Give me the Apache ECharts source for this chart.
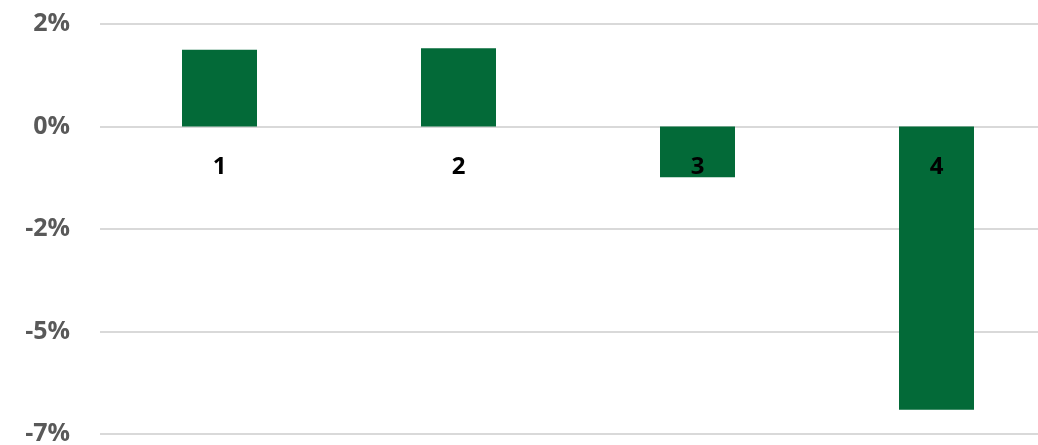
<!DOCTYPE html>
<html>
<head>
<meta charset="utf-8">
<script src="https://cdn.jsdelivr.net/npm/echarts@6/dist/echarts.min.js"></script>
<style>html,body{margin:0;padding:0;background:#fff;}#c{width:1038px;height:445px;}</style>
</head>
<body>
<div id="c"></div>
<script>
const categories = ['1', '2', '3', '4'];
const values = [0.0180, 0.0183, -0.0119, -0.0663];
const yMin = -0.072, yMax = 0.024, yStep = 0.024;

const chart = echarts.init(document.getElementById('c'), null, {renderer: 'canvas'});
chart.setOption({
  animation: false,
  backgroundColor: '#ffffff',
  grid: {left: 100, top: 24, width: 956, height: 410, containLabel: false, outerBoundsMode: 'none'},
  xAxis: {
    type: 'category',
    data: categories,
    position: 'bottom',
    offset: -308,
    z: 10,
    axisLine: {show: false, onZero: false},
    axisTick: {show: false},
    axisLabel: {color: '#000000', fontFamily: 'Open Sans', fontWeight: 700, fontSize: 24, margin: 29}
  },
  yAxis: {
    type: 'value',
    min: yMin, max: yMax, interval: yStep,
    axisLine: {show: false},
    axisTick: {show: false},
    splitLine: {lineStyle: {color: '#d9d9d9', width: 2}},
    axisLabel: {
      color: '#595959', fontFamily: 'Open Sans', fontWeight: 700, fontSize: 25, margin: 30,
      formatter: v => Math.round(v * 100) + '%'
    }
  },
  series: [{
    type: 'bar',
    data: values,
    barWidth: 75,
    z: 2,
    itemStyle: {color: '#036a38'}
  }]
});
</script>
</body>
</html>
